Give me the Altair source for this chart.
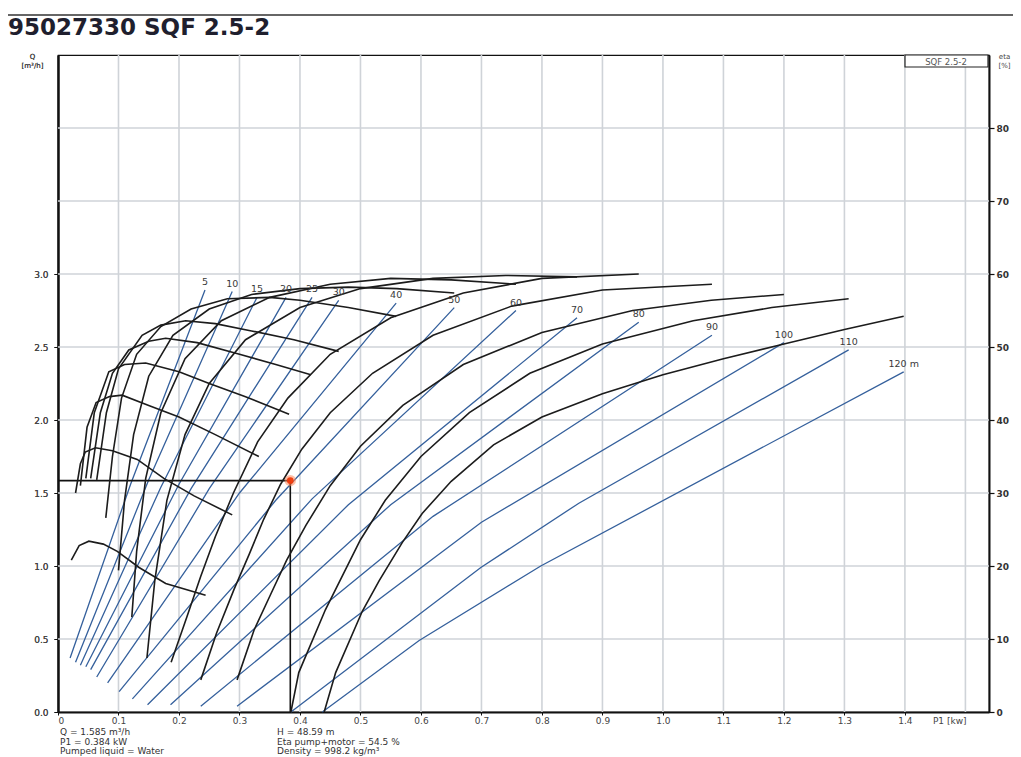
import altair as alt
import pandas as pd

FONT = "DejaVu Sans"

# ---------------- data ----------------
heads = [5, 10, 15, 20, 25, 30, 40, 50, 60, 70, 80, 90, 100, 110, 120]
head_labels = ["5", "10", "15", "20", "25", "30", "40", "50", "60", "70",
               "80", "90", "100", "110", "120 m"]

# blue constant-head lines: P1 [kW] -> Q [m3/h]
line_p1 = {
    5:   [0.020, 0.120, 0.243],
    10:  [0.029, 0.150, 0.288],
    15:  [0.037, 0.170, 0.329],
    20:  [0.046, 0.200, 0.377],
    25:  [0.054, 0.220, 0.420],
    30:  [0.064, 0.250, 0.464],
    40:  [0.082, 0.300, 0.559],
    50:  [0.101, 0.360, 0.655],
    60:  [0.123, 0.420, 0.757],
    70:  [0.148, 0.480, 0.858],
    80:  [0.186, 0.550, 0.960],
    90:  [0.236, 0.620, 1.081],
    100: [0.296, 0.700, 1.200],
    110: [0.385, 0.699, 0.861, 1.307],
    120: [0.437, 0.597, 0.798, 1.398],
}
line_q = {
    5:   [0.37, 1.56, 2.89],
    10:  [0.34, 1.59, 2.88],
    15:  [0.32, 1.54, 2.84],
    20:  [0.31, 1.56, 2.84],
    25:  [0.29, 1.53, 2.84],
    30:  [0.24, 1.53, 2.82],
    40:  [0.20, 1.50, 2.80],
    50:  [0.14, 1.45, 2.77],
    60:  [0.09, 1.46, 2.75],
    70:  [0.05, 1.42, 2.70],
    80:  [0.05, 1.42, 2.67],
    90:  [0.04, 1.34, 2.58],
    100: [0.04, 1.30, 2.53],
    110: [0.00, 0.99, 1.43, 2.48],
    120: [0.00, 0.49, 1.00, 2.33],
}

# black efficiency curves: P1 [kW] -> eta pump+motor [%]
eta_p1 = {
    5:   [0.022, 0.035, 0.051, 0.075, 0.098, 0.134, 0.178, 0.244],
    10:  [0.029, 0.037, 0.045, 0.062, 0.090, 0.131, 0.175, 0.225, 0.288],
    15:  [0.037, 0.048, 0.063, 0.085, 0.106, 0.150, 0.200, 0.260, 0.332],
    20:  [0.046, 0.060, 0.084, 0.110, 0.145, 0.200, 0.250, 0.310, 0.382],
    25:  [0.054, 0.070, 0.090, 0.117, 0.150, 0.178, 0.230, 0.300, 0.360, 0.418],
    30:  [0.064, 0.080, 0.100, 0.139, 0.170, 0.211, 0.260, 0.320, 0.390, 0.464],
    40:  [0.079, 0.090, 0.105, 0.130, 0.170, 0.220, 0.280, 0.350, 0.400, 0.480, 0.559],
    50:  [0.100, 0.110, 0.125, 0.150, 0.190, 0.250, 0.320, 0.400, 0.480, 0.560, 0.655],
    60:  [0.122, 0.130, 0.145, 0.170, 0.210, 0.270, 0.350, 0.450, 0.550, 0.650, 0.757],
    70:  [0.147, 0.160, 0.180, 0.210, 0.250, 0.310, 0.400, 0.500, 0.620, 0.740, 0.858],
    80:  [0.187, 0.213, 0.236, 0.260, 0.290, 0.330, 0.380, 0.450, 0.550, 0.670, 0.800, 0.960],
    90:  [0.236, 0.262, 0.291, 0.316, 0.340, 0.368, 0.403, 0.450, 0.520, 0.620, 0.750, 0.900, 1.081],
    100: [0.296, 0.324, 0.352, 0.378, 0.410, 0.450, 0.500, 0.570, 0.670, 0.800, 0.950, 1.080, 1.200],
    110: [0.385, 0.398, 0.442, 0.500, 0.541, 0.600, 0.680, 0.780, 0.900, 1.050, 1.180, 1.307],
    120: [0.440, 0.459, 0.503, 0.531, 0.569, 0.602, 0.650, 0.720, 0.800, 0.900, 1.000, 1.100,
          1.200, 1.300, 1.398],
}
eta_val = {
    5:   [20.8, 22.8, 23.4, 23.0, 22.0, 19.8, 17.6, 16.0],
    10:  [30.0, 34.0, 35.6, 36.2, 35.8, 34.6, 32.0, 29.6, 27.0],
    15:  [31.0, 39.0, 42.4, 43.2, 43.4, 42.0, 40.4, 38.0, 35.0],
    20:  [32.0, 41.0, 46.6, 47.6, 47.8, 46.6, 45.0, 43.2, 40.8],
    25:  [32.0, 41.0, 46.4, 49.6, 50.8, 51.2, 50.6, 49.0, 47.6, 46.2],
    30:  [31.8, 41.0, 47.0, 51.6, 53.0, 53.6, 53.2, 52.2, 51.0, 49.4],
    40:  [26.6, 35.0, 43.0, 49.0, 52.8, 55.2, 56.6, 56.8, 56.4, 55.4, 54.2],
    50:  [19.4, 29.0, 38.0, 46.0, 51.6, 55.2, 57.2, 58.0, 58.2, 58.0, 57.4],
    60:  [13.0, 22.0, 32.0, 41.0, 48.4, 53.6, 56.8, 58.6, 59.4, 59.2, 58.6],
    70:  [7.4, 18.0, 29.0, 38.0, 45.0, 51.0, 55.4, 58.0, 59.4, 59.8, 59.6],
    80:  [6.8, 13.0, 18.6, 24.0, 30.0, 37.0, 43.0, 49.0, 54.0, 57.4, 59.4, 60.0],
    90:  [4.4, 10.8, 16.8, 21.6, 26.4, 31.2, 36.0, 41.0, 46.4, 51.6, 55.6, 57.8, 58.6],
    100: [4.4, 11.2, 16.2, 20.8, 25.6, 31.0, 36.4, 42.0, 47.6, 52.0, 55.0, 56.4, 57.2],
    110: [0.0, 5.4, 14.0, 23.6, 29.0, 35.0, 41.0, 46.4, 50.4, 53.6, 55.4, 56.6],
    120: [0.0, 5.4, 13.8, 18.0, 23.2, 27.2, 31.6, 36.6, 40.4, 43.6, 46.2, 48.4, 50.4, 52.4, 54.2],
}

duty_p1 = 0.384
duty_q = 1.585

grid_p1 = [0.1, 0.2, 0.3, 0.4, 0.5, 0.6, 0.7, 0.8, 0.9, 1.0, 1.1, 1.2, 1.3, 1.4, 1.5]
grid_q = [0.5, 1.0, 1.5, 2.0, 2.5, 3.0, 3.5, 4.0]
x_ticks = [0, 0.1, 0.2, 0.3, 0.4, 0.5, 0.6, 0.7, 0.8, 0.9, 1.0, 1.1, 1.2, 1.3, 1.4]
q_ticks = [0.0, 0.5, 1.0, 1.5, 2.0, 2.5, 3.0]
eta_ticks = [0, 10, 20, 30, 40, 50, 60, 70, 80]

title_text = "95027330 SQF 2.5-2"
legend_text = "SQF 2.5-2"
footer_left = ["Q = 1.585 m³/h", "P1 = 0.384 kW", "Pumped liquid = Water"]
footer_right = ["H = 48.59 m", "Eta pump+motor = 54.5 %", "Density = 998.2 kg/m³"]

# ---------------- tables ----------------
rows = []
for h in heads:
    for i, (p, q) in enumerate(zip(line_p1[h], line_q[h])):
        rows.append({"head": h, "order": i, "P1": p, "Q": q})
lines_df = pd.DataFrame(rows)

rows = []
for h in heads:
    for i, (p, e) in enumerate(zip(eta_p1[h], eta_val[h])):
        rows.append({"head": h, "order": i, "P1": p, "eta": e})
eta_df = pd.DataFrame(rows)

labels_df = pd.DataFrame({
    "head": heads,
    "label": head_labels,
    "P1": [line_p1[h][-1] for h in heads],
    "Q": [line_q[h][-1] for h in heads],
})
gridx_df = pd.DataFrame({"P1": grid_p1})
gridy_df = pd.DataFrame({"Q": grid_q})
duty_rules_df = pd.DataFrame({
    "P1": [0.0, duty_p1], "P1b": [duty_p1, duty_p1],
    "Q": [duty_q, 0.0], "Qb": [duty_q, duty_q],
})
duty_pt_df = pd.DataFrame({"P1": [duty_p1], "Q": [duty_q]})

# ---------------- styling ----------------
W, H = 931, 657
GRID = "#cfd3d8"
BLUE = "#35609c"
BLACK = "#1c1c1c"

xscale = alt.Scale(domain=[0, 1.539], nice=False, zero=False)
qscale = alt.Scale(domain=[0, 4.5], nice=False)
etascale = alt.Scale(domain=[0, 90], nice=False)

x_axis = alt.Axis(
    values=x_ticks, grid=False,
    labelExpr="datum.value == 0 ? '0' : format(datum.value, '.1f')",
    labelFont=FONT, labelFontSize=9, labelColor="#444", labelPadding=1,
    tickSize=3, tickColor="#111", domainColor="#111", domainWidth=2,
    title="P1 [kw]", titleFont=FONT, titleFontSize=9, titleFontWeight="normal",
    titleColor="#444", titleX=908, titleY=4, titleAlign="right", titleBaseline="top",
)
q_axis = alt.Axis(
    values=q_ticks, format=".1f", grid=False,
    labelFont=FONT, labelFontSize=9, labelColor="#444", labelPadding=6,
    tickSize=4, tickColor="#111", domainColor="#111", domainWidth=2,
    title=["Q", "[m³/h]"], titleAngle=0, titleX=-26, titleY=-3,
    titleAlign="center", titleBaseline="top", titleFont=FONT, titleFontSize=7,
    titleFontWeight="normal", titleColor="#444", titleLineHeight=9,
)
eta_axis = alt.Axis(
    orient="right", values=eta_ticks, grid=False,
    labelFont=FONT, labelFontSize=9, labelFontWeight="bold", labelColor="#333",
    labelPadding=2, tickSize=5, tickColor="#111", tickWidth=1.2,
    domainColor="#111", domainWidth=2,
    title=["eta", "[%]"], titleAngle=0, titleX=15, titleY=-3,
    titleAlign="center", titleBaseline="top", titleFont=FONT, titleFontSize=7,
    titleFontWeight="normal", titleColor="#444", titleLineHeight=9,
)

X = alt.X("P1:Q", scale=xscale, axis=x_axis)
Yq = alt.Y("Q:Q", scale=qscale, axis=q_axis)

vgrid = alt.Chart(gridx_df).mark_rule(color=GRID, strokeWidth=1.6).encode(x=X)
hgrid = alt.Chart(gridy_df).mark_rule(color=GRID, strokeWidth=1.6).encode(y=Yq)

blue = alt.Chart(lines_df).mark_line(color=BLUE, strokeWidth=1.3).encode(
    x=X, y=Yq, detail="head:N", order="order:Q")

labels = alt.Chart(labels_df).mark_text(
    dy=-8, font=FONT, fontSize=9.5, color="#3a3a3a", align="center"
).encode(x=X, y=Yq, text="label:N")

duty_rules = alt.Chart(duty_rules_df).mark_rule(color="#111", strokeWidth=1.6).encode(
    x=X, x2=alt.X2("P1b"), y=Yq, y2=alt.Y2("Qb"))
duty_halo = alt.Chart(duty_pt_df).mark_point(
    filled=True, shape="circle", size=130, color="#ff8a5c", opacity=0.55
).encode(x=X, y=Yq)
duty_pt = alt.Chart(duty_pt_df).mark_point(
    filled=True, shape="circle", size=45, color="#f03a0a", opacity=0.95
).encode(x=X, y=Yq)

q_group = alt.layer(vgrid, hgrid, blue, duty_rules)

eta_curves = alt.Chart(eta_df).mark_line(color=BLACK, strokeWidth=1.6).encode(
    x=X, y=alt.Y("eta:Q", scale=etascale, axis=eta_axis),
    detail="head:N", order="order:Q")

q_top = alt.layer(labels, duty_halo, duty_pt).encode(
    y=alt.Y("Q:Q", scale=qscale, axis=None))


def txt(s, x, y, **kw):
    return alt.Chart(pd.DataFrame({"t": [s]})).mark_text(**kw).encode(
        x=alt.value(x), y=alt.value(y), text="t:N")


deco = []
deco.append(alt.Chart(pd.DataFrame({"t": [0]})).mark_rule(
    color="#333", strokeWidth=1.5).encode(
    x=alt.value(-50), x2=alt.value(960), y=alt.value(-40)))
deco.append(txt(title_text, -50, -20, font=FONT, fontSize=23, fontWeight="bold",
                color="#1f1f2e", align="left", baseline="alphabetic"))
deco.append(alt.Chart(pd.DataFrame({"t": [0]})).mark_rect(
    fill="white", stroke="#222", strokeWidth=1.2).encode(
    x=alt.value(847), x2=alt.value(930), y=alt.value(0), y2=alt.value(12)))
deco.append(txt(legend_text, 888, 6.5, font=FONT, fontSize=8.5, color="#555",
                align="center", baseline="middle"))
for i, s in enumerate(footer_left):
    deco.append(txt(s, 2, 677 + 9.5 * i, font=FONT, fontSize=9, color="#333",
                    align="left", baseline="middle"))
for i, s in enumerate(footer_right):
    deco.append(txt(s, 219, 677 + 9.5 * i, font=FONT, fontSize=9, color="#333",
                    align="left", baseline="middle"))

chart = alt.layer(q_group, eta_curves, q_top, *deco).resolve_scale(
    y="independent"
).properties(
    width=W, height=H,
    padding={"left": 50, "top": 47, "right": 24, "bottom": 45},
    autosize=alt.AutoSizeParams(type="none"),
).configure_view(stroke="#111", strokeWidth=1.2)

chart.save("out.html", embed_options={"renderer": "svg", "actions": False})
